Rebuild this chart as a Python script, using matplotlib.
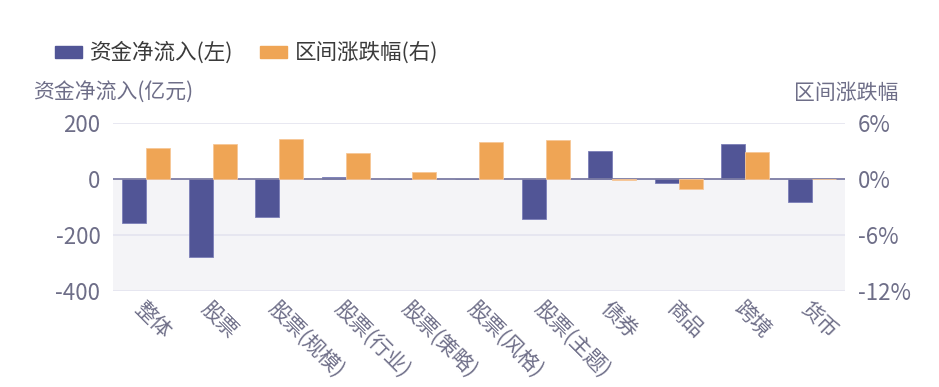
import matplotlib.pyplot as plt
import numpy as np

plt.rcParams['font.family'] = ['Noto Sans CJK SC', 'DejaVu Sans']

categories = ["整体", "股票", "股票(规模)", "股票(行业)", "股票(策略)", "股票(风格)",
              "股票(主题)", "债券", "商品", "跨境", "货币"]
net_inflow = [-158, -277, -137, 8, 0, 0, -144, 100, -15, 125, -82]   # 亿元
change_pct = [3.35, 3.75, 4.25, 2.75, 0.75, 3.93, 4.15, -0.15, -1.07, 2.9, 0]  # %

left_ticks = [200, 0, -200, -400]
right_ticks = [6, 0, -6, -12]

blue = "#515596"
orange = "#efa555"
txt = "#6e6e88"

fig = plt.figure(figsize=(9.39, 3.87), dpi=100)
ax = fig.add_axes([113 / 939, 1 - 291 / 387, 732 / 939, 168 / 387])
ax2 = ax.twinx()

x = np.arange(len(categories))
w = 0.36

ax.axhspan(-400, 0, color="#f4f4f7", zorder=0, lw=0)
for t in [200, -200, -400]:
    ax.axhline(t, color="#e4e4ef", lw=1.2, zorder=1)

ax.bar(x - w / 2, net_inflow, width=w, color=blue, edgecolor="#7b7eb8", lw=0.6, zorder=3)
ax2.bar(x + w / 2, change_pct, width=w, color=orange, edgecolor="#f7c797", lw=0.6, zorder=3)
ax.axhline(0, color="#7c7ca4", lw=1.3, zorder=4)

ax.set_xlim(-0.5, len(categories) - 0.5)
ax.set_ylim(-400, 200)
ax2.set_ylim(-12, 6)
ax.set_yticks(left_ticks)
ax.set_yticklabels([str(t) for t in left_ticks])
ax2.set_yticks(right_ticks)
ax2.set_yticklabels([f"{t}%" for t in right_ticks])

for a in (ax, ax2):
    for s in a.spines.values():
        s.set_visible(False)
    a.tick_params(axis="y", length=0, labelsize=16, labelcolor=txt, pad=9)
ax2.set_zorder(ax.get_zorder() + 1)
ax2.patch.set_visible(False)

ax.set_xticks(x)
ax.set_xticklabels([])
ax.tick_params(axis="x", length=0)
for i, c in enumerate(categories):
    ax.annotate(c, xy=(i, -400), xytext=(-6, -10), textcoords="offset points",
                rotation=-45, ha="left", va="center", rotation_mode="anchor",
                fontsize=15, color=txt, annotation_clip=False)

fig.text(33 / 939, 1 - 93 / 387, "资金净流入(亿元)", fontsize=15, color=txt,
         ha="left", va="center")
fig.text(898 / 939, 1 - 93 / 387, "区间涨跌幅", fontsize=15, color=txt,
         ha="right", va="center")

# legend
for px, col, label in [(55, blue, "资金净流入(左)"), (260, orange, "区间涨跌幅(右)")]:
    fig.patches.append(plt.Rectangle((px / 939, 1 - 58 / 387), 27 / 939, 12 / 387,
                                     transform=fig.transFigure, color=col))
    fig.text((px + 35) / 939, 1 - 53 / 387, label, fontsize=15.5, color="#3a3a3a",
             ha="left", va="center")

fig.savefig("out.png", dpi=100)
